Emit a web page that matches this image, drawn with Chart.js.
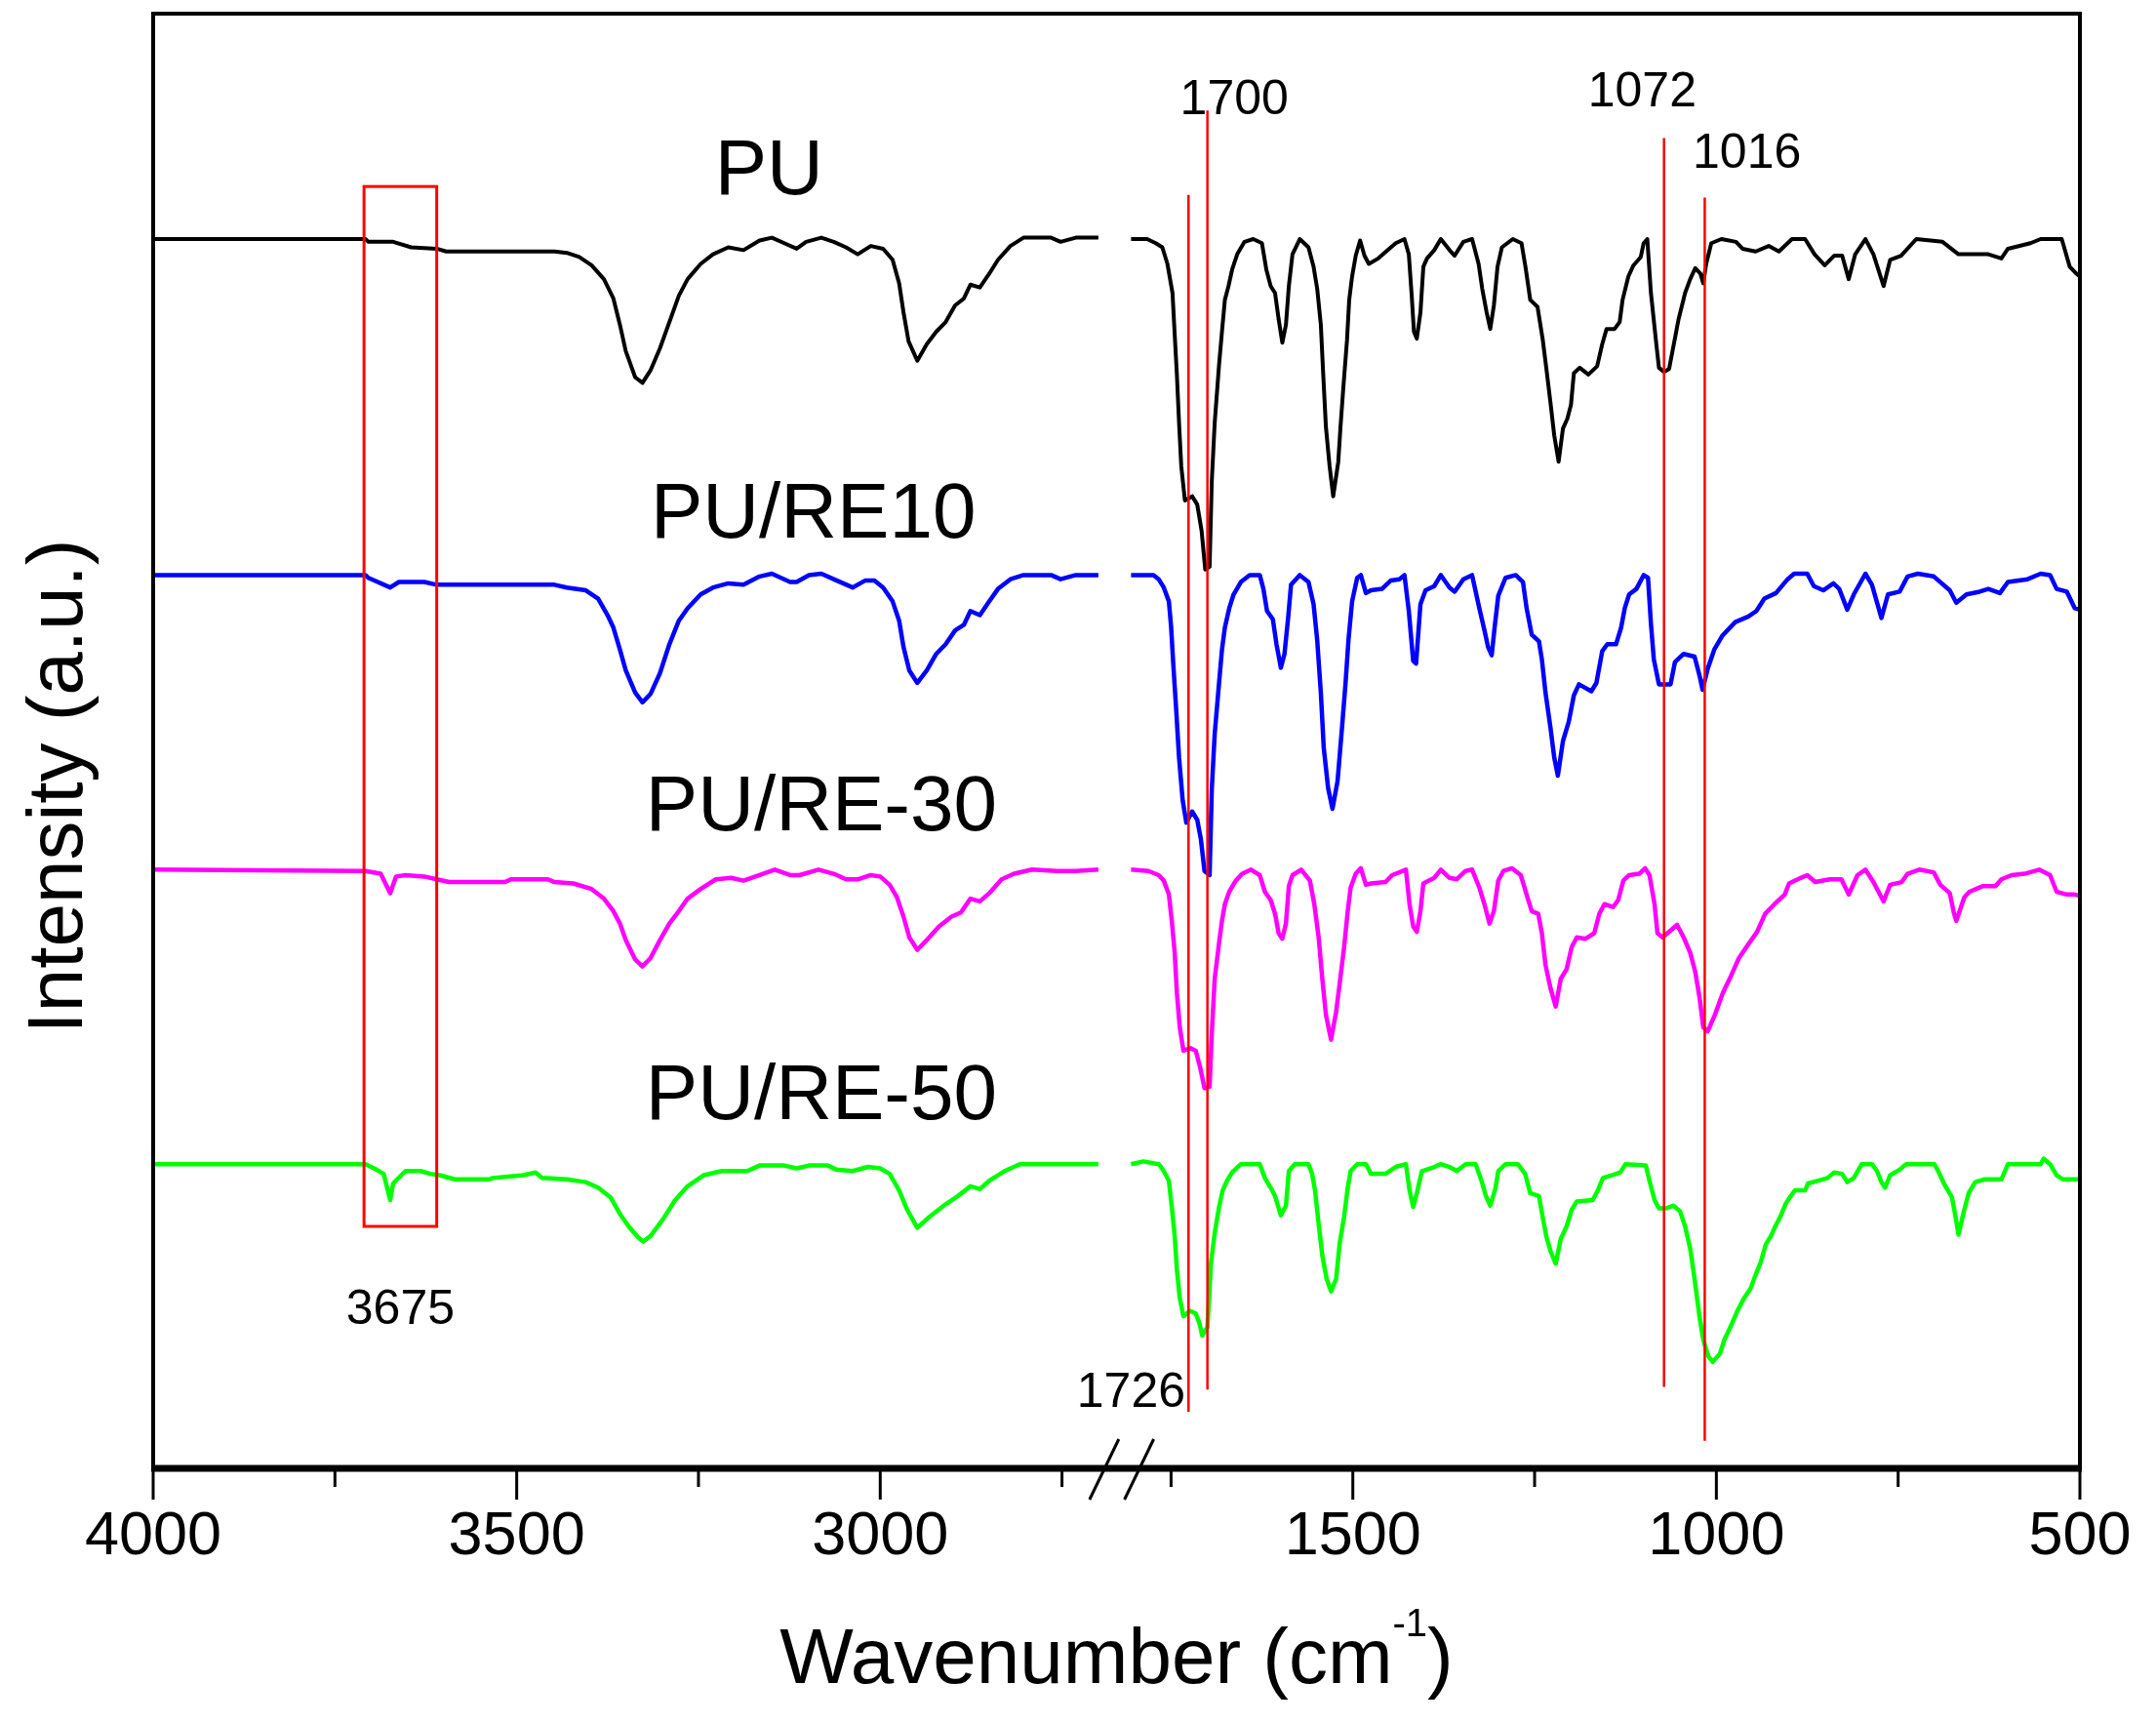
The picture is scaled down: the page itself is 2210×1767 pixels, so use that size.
<!DOCTYPE html>
<html>
<head>
<meta charset="utf-8">
<script src="https://cdn.jsdelivr.net/npm/chart.js@4.4.1/dist/chart.umd.min.js"></script>
<style>
  html, body { margin: 0; padding: 0; background: #fff; }
  canvas { display: block; }
</style>
</head>
<body>
<canvas id="ftir" width="2210" height="1767"></canvas>
<script>
// Espectros FTIR: [numero de onda (cm-1), intensidad (u.a.)]
const puLeft = [[4000,889],[3708,889],[3704,887],[3670,887],[3645,883],[3610,882],[3597,880],[3448,880],[3431,879],[3414,876],[3397,870],[3380,860],[3367,846],[3358,827],[3350,808],[3337,789],[3327,785],[3316,794],[3303,810],[3290,829],[3277,848],[3265,860],[3247,871],[3230,878],[3209,883],[3188,881],[3166,888],[3149,890],[3132,886],[3115,882],[3102,887],[3081,890],[3064,887],[3047,883],[3031,878],[3013,884],[2996,882],[2983,874],[2974,857],[2968,836],[2961,815],[2949,801],[2936,813],[2923,822],[2910,829],[2897,841],[2885,846],[2876,856],[2863,854],[2850,864],[2838,874],[2821,884],[2803,890],[2765,890],[2752,887],[2731,890],[2700,890]];
const puRight = [[1805,889],[1783,889],[1771,886],[1762,883],[1755,871],[1748,850],[1745,820],[1742,791],[1739,756],[1736,725],[1731,700],[1721,703],[1714,697],[1708,678],[1703,650],[1697,652],[1694,714],[1690,756],[1684,798],[1680,822],[1676,845],[1671,855],[1666,867],[1659,878],[1649,887],[1637,889],[1625,886],[1619,867],[1613,855],[1607,850],[1602,831],[1597,814],[1592,827],[1588,855],[1583,878],[1573,889],[1561,883],[1554,869],[1549,853],[1544,827],[1541,794],[1537,753],[1532,725],[1527,703],[1520,728],[1517,753],[1513,782],[1508,816],[1505,845],[1501,862],[1496,877],[1490,888],[1484,877],[1478,871],[1465,875],[1450,882],[1441,886],[1429,889],[1423,878],[1419,848],[1416,822],[1412,817],[1407,836],[1403,869],[1398,875],[1388,881],[1379,889],[1367,881],[1360,877],[1348,887],[1336,889],[1327,871],[1322,853],[1316,836],[1311,824],[1306,841],[1301,869],[1295,883],[1280,889],[1268,886],[1262,867],[1256,845],[1246,840],[1239,817],[1234,796],[1228,770],[1223,747],[1217,728],[1211,752],[1205,759],[1200,769],[1196,792],[1188,796],[1176,791],[1164,797],[1157,813],[1151,824],[1140,824],[1133,829],[1129,845],[1121,862],[1114,870],[1104,876],[1100,886],[1095,889],[1090,850],[1083,815],[1079,796],[1072,793],[1065,795],[1056,820],[1052,831],[1043,850],[1036,860],[1029,868],[1022,864],[1018,857],[1014,871],[1007,886],[993,889],[973,887],[964,882],[946,880],[928,884],[914,880],[896,889],[878,889],[865,878],[851,870],[838,877],[827,877],[818,860],[809,878],[795,889],[784,878],[770,855],[761,874],[746,877],[725,889],[689,887],[667,878],[626,878],[608,875],[599,882],[568,886],[554,889],[525,889],[514,869],[505,864],[500,862]];

const re10Left = [[4000,646],[3708,646],[3704,644],[3674,637],[3662,641],[3627,641],[3610,639],[3448,639],[3431,637],[3405,635],[3388,629],[3375,617],[3367,608],[3358,592],[3350,577],[3337,561],[3327,554],[3316,560],[3303,575],[3290,596],[3277,613],[3265,622],[3247,632],[3230,637],[3209,640],[3188,639],[3166,645],[3149,647],[3124,641],[3115,641],[3098,646],[3081,647],[3064,643],[3038,637],[3021,642],[3008,642],[2996,637],[2983,627],[2974,613],[2968,594],[2960,577],[2949,568],[2936,577],[2923,589],[2910,596],[2897,606],[2885,610],[2876,620],[2863,617],[2850,627],[2838,636],[2821,643],[2803,646],[2765,646],[2752,643],[2731,646],[2700,646]];
const re10Right = [[1805,646],[1774,646],[1767,643],[1760,637],[1753,627],[1750,609],[1747,582],[1743,549],[1739,514],[1734,483],[1729,467],[1721,475],[1714,469],[1709,455],[1704,432],[1697,429],[1694,491],[1690,531],[1684,568],[1680,592],[1676,608],[1670,622],[1664,632],[1654,641],[1642,646],[1628,646],[1623,636],[1618,620],[1610,614],[1605,596],[1599,579],[1594,589],[1589,615],[1585,639],[1573,646],[1561,641],[1554,625],[1549,599],[1544,561],[1540,521],[1534,492],[1528,477],[1521,497],[1515,535],[1510,568],[1506,599],[1501,627],[1494,644],[1489,646],[1482,633],[1475,635],[1460,636],[1448,642],[1436,643],[1429,646],[1423,620],[1417,584],[1413,582],[1407,625],[1400,635],[1388,638],[1379,646],[1367,637],[1360,634],[1348,643],[1336,646],[1326,622],[1319,606],[1314,594],[1309,588],[1305,608],[1300,631],[1290,644],[1276,646],[1266,641],[1261,622],[1254,603],[1244,598],[1240,585],[1235,561],[1228,535],[1223,514],[1218,501],[1211,526],[1203,540],[1196,559],[1189,567],[1172,562],[1165,568],[1157,591],[1150,596],[1138,596],[1131,608],[1126,622],[1120,632],[1110,636],[1100,646],[1094,644],[1090,611],[1086,585],[1079,567],[1063,567],[1057,583],[1045,589],[1030,587],[1023,573],[1019,563],[1012,578],[1003,592],[992,602],[974,612],[956,616],[945,620],[934,629],[918,633],[902,643],[893,647],[875,647],[866,638],[853,635],[839,640],[831,636],[820,621],[811,632],[795,647],[786,639],[773,615],[764,632],[748,634],[737,645],[723,647],[701,645],[679,635],[670,626],[656,632],[638,634],[626,636],[610,633],[599,641],[572,643],[554,647],[541,646],[532,636],[518,634],[507,622],[500,621]];

const re30Left = [[4000,433],[3708,432],[3687,430],[3674,416],[3666,428],[3653,429],[3627,428],[3610,426],[3593,424],[3516,424],[3508,426],[3457,426],[3448,424],[3422,423],[3397,419],[3380,412],[3367,403],[3358,394],[3350,382],[3337,368],[3327,363],[3316,369],[3303,382],[3290,394],[3277,403],[3265,412],[3247,419],[3226,426],[3205,427],[3188,425],[3166,429],[3145,433],[3124,429],[3111,429],[3085,433],[3064,430],[3047,426],[3030,426],[3013,429],[3000,428],[2987,422],[2977,413],[2968,399],[2960,384],[2949,375],[2936,382],[2919,392],[2902,399],[2889,402],[2876,412],[2863,410],[2850,416],[2833,426],[2816,430],[2791,433],[2757,432],[2731,432],[2700,433]];
const re30Right = [[1805,433],[1781,432],[1767,429],[1760,425],[1753,415],[1749,396],[1745,373],[1742,344],[1738,319],[1733,302],[1724,304],[1716,302],[1710,290],[1704,275],[1697,276],[1694,314],[1690,354],[1684,380],[1680,396],[1676,408],[1670,417],[1661,425],[1652,430],[1640,433],[1628,429],[1621,417],[1613,411],[1607,401],[1602,387],[1597,383],[1592,394],[1588,421],[1583,429],[1571,433],[1559,425],[1553,408],[1547,384],[1542,354],[1537,328],[1530,310],[1523,330],[1518,351],[1512,377],[1507,403],[1503,420],[1496,430],[1489,434],[1482,422],[1475,423],[1455,424],[1446,429],[1427,433],[1422,408],[1417,392],[1412,388],[1407,403],[1403,423],[1388,427],[1379,433],[1367,427],[1357,426],[1345,432],[1336,433],[1326,420],[1319,408],[1312,394],[1306,403],[1300,425],[1293,432],[1281,434],[1269,429],[1261,415],[1254,403],[1245,401],[1240,387],[1235,364],[1228,347],[1221,334],[1214,354],[1206,361],[1199,377],[1192,384],[1180,383],[1168,387],[1161,401],[1154,408],[1142,406],[1135,411],[1128,425],[1120,429],[1106,430],[1098,434],[1092,429],[1085,408],[1081,387],[1074,384],[1065,388],[1054,393],[1045,384],[1036,373],[1029,359],[1023,340],[1018,319],[1012,316],[1002,328],[991,344],[980,356],[969,369],[956,379],[944,388],[933,401],[920,408],[906,415],[900,423],[884,427],[875,429],[864,424],[844,426],[828,426],[818,415],[806,429],[795,433],[784,424],[770,410],[761,422],[745,424],[737,430],[721,433],[701,431],[692,422],[679,416],[673,401],[670,396],[659,413],[652,417],[634,421],[616,421],[608,426],[594,429],[576,430],[556,433],[541,429],[532,417],[518,415],[507,415],[500,414]];

const re50Left = [[4000,220],[3708,220],[3696,217],[3683,213],[3674,194],[3670,206],[3653,215],[3632,215],[3619,213],[3606,212],[3585,209],[3538,209],[3533,210],[3491,212],[3474,214],[3465,210],[3431,209],[3405,207],[3388,203],[3371,196],[3358,184],[3346,175],[3333,167],[3326,164],[3316,168],[3299,180],[3282,194],[3265,204],[3243,212],[3218,215],[3183,215],[3166,219],[3132,219],[3115,217],[3098,219],[3072,219],[3060,216],[3038,215],[3017,218],[3000,217],[2987,213],[2974,201],[2963,187],[2949,174],[2932,182],[2910,191],[2893,197],[2876,204],[2863,202],[2850,208],[2829,215],[2808,220],[2700,220]];
const re50Right = [[1805,220],[1788,222],[1767,220],[1760,215],[1753,208],[1749,189],[1745,168],[1742,144],[1738,123],[1733,110],[1724,114],[1716,112],[1711,105],[1707,96],[1700,102],[1695,149],[1690,170],[1684,189],[1679,201],[1673,208],[1666,214],[1654,220],[1628,220],[1621,210],[1613,203],[1607,197],[1599,183],[1592,190],[1588,215],[1580,220],[1561,220],[1556,213],[1552,201],[1547,177],[1542,154],[1536,137],[1530,128],[1523,137],[1518,163],[1512,182],[1507,203],[1503,215],[1494,220],[1482,220],[1475,213],[1455,213],[1441,218],[1427,220],[1422,201],[1417,189],[1412,199],[1405,215],[1388,218],[1379,220],[1367,218],[1357,215],[1345,220],[1331,220],[1323,208],[1317,197],[1311,190],[1304,202],[1300,215],[1290,220],[1273,220],[1263,213],[1256,199],[1244,197],[1240,185],[1234,168],[1228,157],[1221,148],[1214,166],[1206,175],[1199,187],[1192,193],[1170,194],[1163,201],[1156,210],[1144,212],[1132,214],[1125,220],[1097,219],[1092,208],[1085,194],[1079,188],[1070,188],[1059,190],[1050,186],[1043,175],[1036,159],[1030,137],[1023,109],[1018,93],[1011,81],[1005,77],[995,83],[989,93],[980,103],[971,114],[962,123],[953,130],[946,140],[939,149],[932,162],[925,168],[919,175],[912,182],[905,191],[899,196],[892,201],[878,201],[874,206],[860,208],[847,210],[838,214],[827,213],[820,207],[811,210],[800,220],[786,220],[779,215],[773,207],[768,203],[761,212],[748,216],[739,220],[700,220],[694,214],[687,206],[676,196],[671,182],[667,169],[660,185],[653,199],[644,207],[631,209],[608,209],[599,220],[554,220],[550,224],[541,220],[532,212],[523,209],[505,209],[500,209]];

const seriesNames = ['PU', 'PU/RE10', 'PU/RE-30', 'PU/RE-50'];
const seriesColors = ['#000000', '#0000ff', '#ff00ff', '#00ff00'];
const tickWavenumbers = [4000, 3500, 3000, 1500, 1000, 500];
const minorTickWavenumbers = [3750, 3250, 2750, 1750, 1250, 750];
const peakWavenumbers = [1726, 1700, 1072, 1016];

// Eje roto: 4000-2700 | hueco | 1800-500
const LEFT_END = 2700, RIGHT_START = 1800, GAP = 50;
const xOf = w => w >= LEFT_END ? 4000 - w : (4000 - LEFT_END) + GAP + (RIGHT_START - w);
const wnOf = v => v <= 4000 - LEFT_END ? 4000 - v : RIGHT_START - (v - (4000 - LEFT_END) - GAP);

// Anotaciones (en unidades de datos)
const peakLineSpan = { 1726: [921, 41], 1700: [982, 57], 1072: [962, 59], 1016: [919, 20] };
const peakTexts = [['1700', 1663, 989], ['1072', 1102, 995], ['1016', 958, 950], ['3675', 3660, 114], ['1726', 1805, 54]];
const seriesTexts = [[3153, 937], [3092, 689], [3081, 477], [3081, 268]];
const boxSpan = { wn: [3710, 3610], y: [927, 175] };

const FONT = '"Liberation Sans", Arial, sans-serif';

function toPoints(left, right) {
  return [
    ...left.map(([w, v]) => ({ x: xOf(w), y: v })),
    { x: (4000 - LEFT_END) + GAP / 2, y: null },
    ...right.map(([w, v]) => ({ x: xOf(w), y: v }))
  ];
}

const spectra = [[puLeft, puRight], [re10Left, re10Right], [re30Left, re30Right], [re50Left, re50Right]];

const decor = {
  id: 'decor',
  afterDatasetsDraw(chart) {
    const { ctx, chartArea: a, scales: { x, y } } = chart;
    const px = w => x.getPixelForValue(xOf(w));
    const py = v => y.getPixelForValue(v);
    ctx.save();

    // lineas rojas de picos y recuadro
    ctx.strokeStyle = '#ff0000';
    ctx.lineWidth = 2.5;
    peakWavenumbers.forEach(w => {
      const [t, b] = peakLineSpan[w];
      ctx.beginPath();
      ctx.moveTo(px(w), py(t));
      ctx.lineTo(px(w), py(b));
      ctx.stroke();
    });
    ctx.lineWidth = 3;
    ctx.strokeRect(px(boxSpan.wn[0]), py(boxSpan.y[0]),
      px(boxSpan.wn[1]) - px(boxSpan.wn[0]), py(boxSpan.y[1]) - py(boxSpan.y[0]));

    // marco
    ctx.strokeStyle = '#000';
    ctx.lineWidth = 4;
    ctx.strokeRect(a.left, a.top, a.right - a.left, a.bottom - a.top);
    ctx.lineWidth = 7;
    ctx.beginPath();
    ctx.moveTo(a.left - 2, a.bottom);
    ctx.lineTo(a.right + 2, a.bottom);
    ctx.stroke();

    // marcas del eje x
    ctx.lineWidth = 3;
    tickWavenumbers.forEach(w => {
      ctx.beginPath(); ctx.moveTo(px(w), a.bottom); ctx.lineTo(px(w), a.bottom + 32); ctx.stroke();
    });
    minorTickWavenumbers.forEach(w => {
      ctx.beginPath(); ctx.moveTo(px(w), a.bottom); ctx.lineTo(px(w), a.bottom + 19); ctx.stroke();
    });
    // simbolo de corte //
    [1308, 1356].forEach(v => {
      const cx = x.getPixelForValue(v);
      ctx.beginPath(); ctx.moveTo(cx - 15, a.bottom + 32); ctx.lineTo(cx + 15, a.bottom - 30); ctx.stroke();
    });

    // textos
    ctx.fillStyle = '#000';
    ctx.textAlign = 'center';
    ctx.textBaseline = 'middle';
    ctx.font = '80px ' + FONT;
    seriesTexts.forEach(([w, v], i) => ctx.fillText(seriesNames[i], px(w), py(v)));
    ctx.font = '50px ' + FONT;
    peakTexts.forEach(([t, w, v]) => ctx.fillText(t, px(w), py(v)));

    // titulo eje x con superindice
    ctx.textBaseline = 'alphabetic';
    ctx.textAlign = 'left';
    const main = 'Wavenumber (cm', sup = '-1', close = ')';
    ctx.font = '80px ' + FONT; const w1 = ctx.measureText(main).width, w3 = ctx.measureText(close).width;
    ctx.font = '40px ' + FONT; const w2 = ctx.measureText(sup).width;
    const sx = (a.left + a.right) / 2 - (w1 + w2 + w3) / 2;
    ctx.font = '80px ' + FONT; ctx.fillText(main, sx, 1725);
    ctx.font = '40px ' + FONT; ctx.fillText(sup, sx + w1, 1677);
    ctx.font = '80px ' + FONT; ctx.fillText(close, sx + w1 + w2, 1725);

    // titulo eje y
    ctx.translate(84, 806);
    ctx.rotate(-Math.PI / 2);
    ctx.textAlign = 'center';
    ctx.fillText('Intensity (a.u.)', 0, 0);
    ctx.restore();
  }
};

new Chart(document.getElementById('ftir'), {
  type: 'line',
  data: {
    datasets: spectra.map(([l, r], i) => ({
      label: seriesNames[i],
      data: toPoints(l, r),
      borderColor: seriesColors[i],
      borderWidth: i === 0 ? 4 : 4.5,
      borderJoinStyle: 'round',
      pointRadius: 0,
      tension: 0,
      fill: false
    }))
  },
  options: {
    responsive: false,
    animation: false,
    layout: { padding: { top: 14, right: 78, left: 0, bottom: 0 } },
    plugins: { legend: { display: false }, tooltip: { enabled: false } },
    scales: {
      x: {
        type: 'linear',
        min: 0,
        max: xOf(500),
        grid: { display: false, drawTicks: false },
        border: { display: false },
        afterBuildTicks: s => { s.ticks = tickWavenumbers.map(w => ({ value: xOf(w) })); },
        afterFit: s => { s.height = 262; s.paddingLeft = 0; s.paddingRight = 0; },
        ticks: {
          autoSkip: false,
          maxRotation: 0,
          padding: 33,
          color: '#000',
          font: { family: FONT, size: 63 },
          callback: v => String(Math.round(wnOf(v)))
        }
      },
      y: {
        min: 0,
        max: 1052,
        grid: { display: false, drawTicks: false },
        border: { display: false },
        ticks: { display: false },
        afterFit: s => { s.width = 157; }
      }
    }
  },
  plugins: [decor]
});
</script>
</body>
</html>
